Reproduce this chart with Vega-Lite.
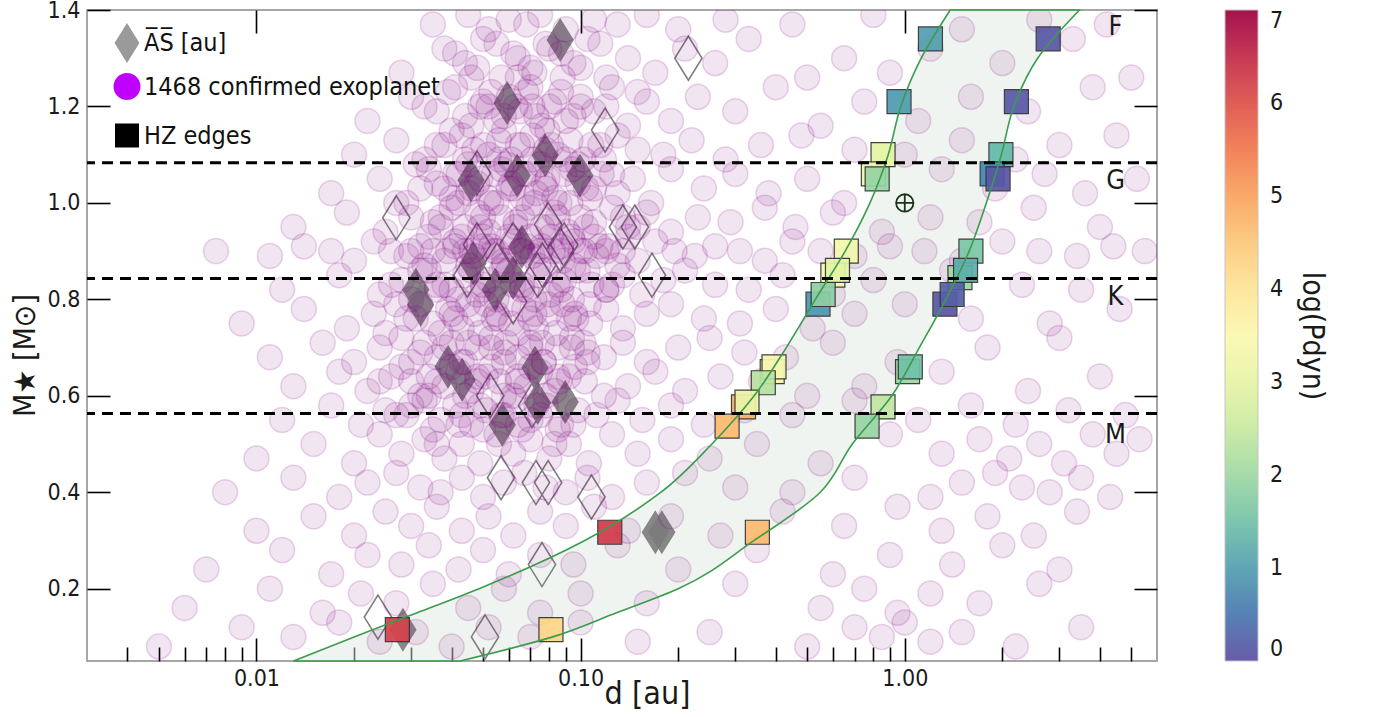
{
"$schema": "https://vega.github.io/schema/vega-lite/v6.json",
"width": 1070, "height": 651,
"autosize": {"type": "none"},
"padding": {"left": 87, "top": 10, "right": 217, "bottom": 56},
"background": "white",
"config": {
  "font": "DejaVu Sans Condensed",
  "view": {"stroke": "#a6a6a6", "strokeWidth": 2},
  "axis": {"grid": false, "domain": false, "tickColor": "black", "tickWidth": 1.6, "labelFont": "DejaVu Sans Condensed", "labelFontSize": 23, "labelColor": "#1a1a1a", "titleFont": "DejaVu Sans Condensed", "titleFontWeight": "normal", "titleColor": "#1a1a1a", "labelFlush": false, "labelOverlap": false}
},
"datasets": {
"hz": [
{"m":0.05,"din":0.0130,"dout":0.0425},{"m":0.1,"din":0.0200,"dout":0.082},{"m":0.15,"din":0.0313,"dout":0.129},{"m":0.2,"din":0.0486,"dout":0.200},{"m":0.3,"din":0.103,"dout":0.343},{"m":0.4,"din":0.177,"dout":0.549},{"m":0.5,"din":0.254,"dout":0.689},{"m":0.6,"din":0.343,"dout":0.912},{"m":0.7,"din":0.431,"dout":1.109},{"m":0.8,"din":0.530,"dout":1.34},{"m":0.9,"din":0.655,"dout":1.58},{"m":1.0,"din":0.781,"dout":1.785},{"m":1.1,"din":0.889,"dout":1.986},{"m":1.2,"din":0.972,"dout":2.17},{"m":1.3,"din":1.124,"dout":2.57},{"m":1.4,"din":1.381,"dout":3.46}
],
"sq": [
{"d":1.20,"m":1.34,"p":1.0},{"d":2.77,"m":1.34,"p":0.1},{"d":0.96,"m":1.21,"p":0.95},{"d":2.21,"m":1.21,"p":0.15},{"d":0.857,"m":1.10,"p":2.9},{"d":1.98,"m":1.10,"p":1.35},
{"d":0.80,"m":1.06,"p":3.2},{"d":0.822,"m":1.05,"p":1.9},{"d":1.86,"m":1.06,"p":0.7},{"d":1.94,"m":1.05,"p":0.1},
{"d":0.66,"m":0.90,"p":3.3},{"d":0.60,"m":0.85,"p":3.4},{"d":0.62,"m":0.86,"p":2.9},{"d":0.54,"m":0.79,"p":0.9},{"d":0.56,"m":0.81,"p":1.8},
{"d":1.60,"m":0.90,"p":1.6},{"d":1.48,"m":0.845,"p":2.0},{"d":1.54,"m":0.86,"p":1.2},{"d":1.33,"m":0.79,"p":0.1},{"d":1.40,"m":0.81,"p":0.2},
{"d":0.39,"m":0.65,"p":3.6},{"d":0.395,"m":0.66,"p":3.4},{"d":0.366,"m":0.627,"p":2.3},{"d":0.318,"m":0.577,"p":4.8},{"d":0.326,"m":0.587,"p":3.1},{"d":0.283,"m":0.537,"p":4.7},
{"d":1.02,"m":0.65,"p":2.0},{"d":1.04,"m":0.66,"p":1.5},{"d":0.857,"m":0.577,"p":2.4},{"d":0.765,"m":0.537,"p":1.9},
{"d":0.351,"m":0.317,"p":4.7},{"d":0.123,"m":0.317,"p":6.3},{"d":0.0272,"m":0.115,"p":6.2},{"d":0.081,"m":0.115,"p":4.3}
],
"dfill": [
{"d":0.0865,"m":1.338},{"d":0.0593,"m":1.207},{"d":0.0777,"m":1.099},{"d":0.0459,"m":1.047},{"d":0.0637,"m":1.057},{"d":0.0995,"m":1.057},{"d":0.0310,"m":0.82},{"d":0.0321,"m":0.789},{"d":0.039,"m":0.66},{"d":0.0431,"m":0.633},{"d":0.0723,"m":0.658},{"d":0.0737,"m":0.585},{"d":0.0896,"m":0.587},{"d":0.0573,"m":0.54},{"d":0.0466,"m":0.875},{"d":0.0545,"m":0.82},{"d":0.0659,"m":0.909},{"d":0.0619,"m":0.845},{"d":0.170,"m":0.317},{"d":0.178,"m":0.317},{"d":0.0283,"m":0.115}
],
"dhollow": [
{"d":0.215,"m":1.30},{"d":0.119,"m":1.151},{"d":0.0479,"m":1.062},{"d":0.0270,"m":0.969},{"d":0.0794,"m":0.955},{"d":0.135,"m":0.95},{"d":0.147,"m":0.95},{"d":0.0479,"m":0.913},{"d":0.0619,"m":0.913},{"d":0.0865,"m":0.903},{"d":0.089,"m":0.913},{"d":0.0447,"m":0.85},{"d":0.0552,"m":0.871},{"d":0.0737,"m":0.85},{"d":0.0762,"m":0.871},{"d":0.166,"m":0.85},{"d":0.0619,"m":0.795},{"d":0.0526,"m":0.60},{"d":0.0708,"m":0.58},{"d":0.0568,"m":0.43},{"d":0.0728,"m":0.42},{"d":0.0794,"m":0.42},{"d":0.108,"m":0.39},{"d":0.076,"m":0.25},{"d":0.0237,"m":0.141},{"d":0.0507,"m":0.10}
],
"hl": [{"m":1.083},{"m":0.843},{"m":0.563}],
"lab": [{"d":4.47,"m":1.365,"t":"F"},{"d":4.47,"m":1.045,"t":"G"},{"d":4.47,"m":0.805,"t":"K"},{"d":4.47,"m":0.519,"t":"M"}],
"earth": [{"d":1.0,"m":1.0}],
"leg": [{"s":"A\u0305S\u0305 [au]"},{"s":"1468 confirmed exoplanet"},{"s":"HZ edges"}],
"planets": [
{"d":0.035,"m":1.37},{"d":0.045,"m":1.39},{"d":0.052,"m":1.36},{"d":0.06,"m":1.38},{"d":0.068,"m":1.37},{"d":0.075,"m":1.39},{"d":0.09,"m":1.36},{"d":0.11,"m":1.38},{"d":0.13,"m":1.37},{"d":0.16,"m":1.39},{"d":0.2,"m":1.36},{"d":0.28,"m":1.38},{"d":0.45,"m":1.37},{"d":0.8,"m":1.39},{"d":1.5,"m":1.36},{"d":2.6,"m":1.38},{"d":4.2,"m":1.37},
{"d":0.028,"m":1.27},{"d":0.038,"m":1.32},{"d":0.044,"m":1.29},{"d":0.05,"m":1.34},{"d":0.057,"m":1.26},{"d":0.064,"m":1.30},{"d":0.072,"m":1.27},{"d":0.08,"m":1.32},{"d":0.095,"m":1.29},{"d":0.105,"m":1.34},{"d":0.12,"m":1.26},{"d":0.14,"m":1.30},{"d":0.17,"m":1.27},{"d":0.21,"m":1.32},{"d":0.26,"m":1.29},{"d":0.33,"m":1.34},{"d":0.5,"m":1.26},{"d":0.65,"m":1.30},{"d":0.9,"m":1.27},{"d":1.2,"m":1.32},{"d":2.0,"m":1.29},{"d":3.3,"m":1.34},{"d":5.0,"m":1.26},
{"d":0.022,"m":1.17},{"d":0.03,"m":1.22},{"d":0.036,"m":1.19},{"d":0.041,"m":1.24},{"d":0.046,"m":1.16},{"d":0.05,"m":1.21},{"d":0.055,"m":1.17},{"d":0.06,"m":1.22},{"d":0.065,"m":1.19},{"d":0.07,"m":1.24},{"d":0.076,"m":1.16},{"d":0.083,"m":1.21},{"d":0.09,"m":1.17},{"d":0.1,"m":1.22},{"d":0.11,"m":1.19},{"d":0.125,"m":1.24},{"d":0.14,"m":1.16},{"d":0.16,"m":1.21},{"d":0.19,"m":1.17},{"d":0.23,"m":1.22},{"d":0.3,"m":1.19},{"d":0.4,"m":1.24},{"d":0.55,"m":1.16},{"d":0.75,"m":1.21},{"d":1.1,"m":1.17},{"d":1.6,"m":1.22},{"d":2.4,"m":1.19},{"d":3.8,"m":1.24},
{"d":0.02,"m":1.10},{"d":0.027,"m":1.13},{"d":0.033,"m":1.09},{"d":0.038,"m":1.12},{"d":0.043,"m":1.14},{"d":0.047,"m":1.11},{"d":0.052,"m":1.10},{"d":0.056,"m":1.13},{"d":0.061,"m":1.09},{"d":0.066,"m":1.12},{"d":0.071,"m":1.14},{"d":0.078,"m":1.11},{"d":0.085,"m":1.10},{"d":0.093,"m":1.13},{"d":0.102,"m":1.09},{"d":0.115,"m":1.12},{"d":0.13,"m":1.14},{"d":0.15,"m":1.11},{"d":0.18,"m":1.10},{"d":0.22,"m":1.13},{"d":0.28,"m":1.09},{"d":0.36,"m":1.12},{"d":0.48,"m":1.14},{"d":0.7,"m":1.11},{"d":1.0,"m":1.10},{"d":1.5,"m":1.13},{"d":2.2,"m":1.09},{"d":3.0,"m":1.12},{"d":4.5,"m":1.14},
{"d":0.017,"m":1.02},{"d":0.024,"m":1.05},{"d":0.029,"m":1.0},{"d":0.034,"m":1.07},{"d":0.038,"m":1.03},{"d":0.042,"m":1.06},{"d":0.045,"m":1.02},{"d":0.049,"m":1.05},{"d":0.053,"m":1.0},{"d":0.057,"m":1.07},{"d":0.062,"m":1.03},{"d":0.067,"m":1.06},{"d":0.073,"m":1.02},{"d":0.079,"m":1.05},{"d":0.086,"m":1.0},{"d":0.094,"m":1.07},{"d":0.104,"m":1.03},{"d":0.116,"m":1.06},{"d":0.13,"m":1.02},{"d":0.145,"m":1.05},{"d":0.165,"m":1.0},{"d":0.19,"m":1.07},{"d":0.24,"m":1.03},{"d":0.3,"m":1.06},{"d":0.38,"m":1.02},{"d":0.5,"m":1.05},{"d":0.65,"m":1.0},{"d":1.3,"m":1.07},{"d":1.9,"m":1.03},{"d":2.7,"m":1.06},{"d":3.6,"m":1.02},{"d":5.2,"m":1.05},
{"d":0.013,"m":0.95},{"d":0.019,"m":0.98},{"d":0.025,"m":0.94},{"d":0.03,"m":0.97},{"d":0.035,"m":0.96},{"d":0.04,"m":0.99},{"d":0.044,"m":0.95},{"d":0.048,"m":0.98},{"d":0.052,"m":0.94},{"d":0.057,"m":0.97},{"d":0.063,"m":0.96},{"d":0.069,"m":0.99},{"d":0.076,"m":0.95},{"d":0.083,"m":0.98},{"d":0.091,"m":0.94},{"d":0.1,"m":0.97},{"d":0.11,"m":0.96},{"d":0.125,"m":0.99},{"d":0.14,"m":0.95},{"d":0.16,"m":0.98},{"d":0.19,"m":0.94},{"d":0.23,"m":0.97},{"d":0.29,"m":0.96},{"d":0.37,"m":0.99},{"d":0.46,"m":0.95},{"d":0.6,"m":0.98},{"d":0.85,"m":0.94},{"d":1.2,"m":0.97},{"d":1.7,"m":0.96},{"d":2.5,"m":0.99},{"d":4.0,"m":0.95},
{"d":0.0075,"m":0.9},{"d":0.011,"m":0.89},{"d":0.014,"m":0.91},{"d":0.017,"m":0.9},{"d":0.02,"m":0.88},{"d":0.023,"m":0.92},{"d":0.026,"m":0.9},{"d":0.029,"m":0.89},{"d":0.032,"m":0.91},{"d":0.035,"m":0.9},{"d":0.038,"m":0.88},{"d":0.041,"m":0.92},{"d":0.044,"m":0.9},{"d":0.047,"m":0.89},{"d":0.05,"m":0.91},{"d":0.054,"m":0.9},{"d":0.058,"m":0.88},{"d":0.062,"m":0.92},{"d":0.066,"m":0.9},{"d":0.071,"m":0.89},{"d":0.076,"m":0.91},{"d":0.082,"m":0.9},{"d":0.088,"m":0.88},{"d":0.095,"m":0.92},{"d":0.103,"m":0.9},{"d":0.112,"m":0.89},{"d":0.122,"m":0.91},{"d":0.135,"m":0.9},{"d":0.15,"m":0.88},{"d":0.17,"m":0.92},{"d":0.195,"m":0.9},{"d":0.225,"m":0.89},{"d":0.26,"m":0.91},{"d":0.31,"m":0.9},{"d":0.37,"m":0.88},{"d":0.45,"m":0.92},{"d":0.55,"m":0.9},{"d":0.7,"m":0.89},{"d":0.9,"m":0.91},{"d":1.15,"m":0.9},{"d":1.5,"m":0.88},{"d":2.0,"m":0.92},{"d":2.6,"m":0.9},{"d":3.4,"m":0.89},{"d":4.4,"m":0.91},{"d":5.5,"m":0.9},
{"d":0.012,"m":0.82},{"d":0.018,"m":0.85},{"d":0.024,"m":0.81},{"d":0.028,"m":0.84},{"d":0.032,"m":0.86},{"d":0.036,"m":0.83},{"d":0.04,"m":0.82},{"d":0.044,"m":0.85},{"d":0.048,"m":0.81},{"d":0.052,"m":0.84},{"d":0.057,"m":0.86},{"d":0.062,"m":0.83},{"d":0.068,"m":0.82},{"d":0.074,"m":0.85},{"d":0.081,"m":0.81},{"d":0.089,"m":0.84},{"d":0.098,"m":0.86},{"d":0.108,"m":0.83},{"d":0.12,"m":0.82},{"d":0.135,"m":0.85},{"d":0.155,"m":0.81},{"d":0.18,"m":0.84},{"d":0.21,"m":0.86},{"d":0.26,"m":0.83},{"d":0.33,"m":0.82},{"d":0.42,"m":0.85},{"d":0.6,"m":0.81},{"d":0.8,"m":0.84},{"d":1.4,"m":0.86},{"d":2.3,"m":0.83},{"d":3.5,"m":0.82},
{"d":0.009,"m":0.75},{"d":0.014,"m":0.78},{"d":0.019,"m":0.74},{"d":0.023,"m":0.77},{"d":0.027,"m":0.79},{"d":0.031,"m":0.76},{"d":0.035,"m":0.75},{"d":0.039,"m":0.78},{"d":0.043,"m":0.74},{"d":0.047,"m":0.77},{"d":0.051,"m":0.79},{"d":0.056,"m":0.76},{"d":0.061,"m":0.75},{"d":0.067,"m":0.78},{"d":0.073,"m":0.74},{"d":0.08,"m":0.77},{"d":0.088,"m":0.79},{"d":0.097,"m":0.76},{"d":0.107,"m":0.75},{"d":0.12,"m":0.78},{"d":0.135,"m":0.74},{"d":0.16,"m":0.77},{"d":0.19,"m":0.79},{"d":0.24,"m":0.76},{"d":0.31,"m":0.75},{"d":0.4,"m":0.78},{"d":0.52,"m":0.74},{"d":0.7,"m":0.77},{"d":1.0,"m":0.79},{"d":1.6,"m":0.76},{"d":2.8,"m":0.75},{"d":4.6,"m":0.78},
{"d":0.011,"m":0.68},{"d":0.016,"m":0.71},{"d":0.02,"m":0.67},{"d":0.024,"m":0.7},{"d":0.028,"m":0.72},{"d":0.032,"m":0.69},{"d":0.036,"m":0.68},{"d":0.04,"m":0.71},{"d":0.044,"m":0.67},{"d":0.048,"m":0.7},{"d":0.053,"m":0.72},{"d":0.058,"m":0.69},{"d":0.064,"m":0.68},{"d":0.07,"m":0.71},{"d":0.077,"m":0.67},{"d":0.085,"m":0.7},{"d":0.094,"m":0.72},{"d":0.105,"m":0.69},{"d":0.118,"m":0.68},{"d":0.135,"m":0.71},{"d":0.16,"m":0.67},{"d":0.2,"m":0.7},{"d":0.25,"m":0.72},{"d":0.32,"m":0.69},{"d":0.43,"m":0.68},{"d":0.6,"m":0.71},{"d":0.95,"m":0.67},{"d":1.8,"m":0.7},{"d":3.0,"m":0.72},
{"d":0.013,"m":0.62},{"d":0.018,"m":0.65},{"d":0.022,"m":0.61},{"d":0.026,"m":0.64},{"d":0.03,"m":0.63},{"d":0.034,"m":0.6},{"d":0.038,"m":0.62},{"d":0.042,"m":0.65},{"d":0.046,"m":0.61},{"d":0.051,"m":0.64},{"d":0.056,"m":0.63},{"d":0.062,"m":0.6},{"d":0.068,"m":0.62},{"d":0.075,"m":0.65},{"d":0.083,"m":0.61},{"d":0.092,"m":0.64},{"d":0.103,"m":0.63},{"d":0.118,"m":0.6},{"d":0.14,"m":0.62},{"d":0.17,"m":0.65},{"d":0.21,"m":0.61},{"d":0.27,"m":0.64},{"d":0.36,"m":0.63},{"d":0.5,"m":0.6},{"d":0.75,"m":0.62},{"d":1.3,"m":0.65},{"d":2.4,"m":0.61},{"d":4.0,"m":0.64},
{"d":0.012,"m":0.55},{"d":0.017,"m":0.58},{"d":0.021,"m":0.54},{"d":0.025,"m":0.57},{"d":0.029,"m":0.56},{"d":0.033,"m":0.59},{"d":0.037,"m":0.55},{"d":0.041,"m":0.58},{"d":0.046,"m":0.54},{"d":0.051,"m":0.57},{"d":0.057,"m":0.56},{"d":0.063,"m":0.59},{"d":0.07,"m":0.55},{"d":0.078,"m":0.58},{"d":0.087,"m":0.54},{"d":0.098,"m":0.57},{"d":0.112,"m":0.56},{"d":0.13,"m":0.59},{"d":0.155,"m":0.55},{"d":0.19,"m":0.58},{"d":0.24,"m":0.54},{"d":0.32,"m":0.57},{"d":0.45,"m":0.56},{"d":0.7,"m":0.59},{"d":1.1,"m":0.55},{"d":1.6,"m":0.58},{"d":2.2,"m":0.54},{"d":3.2,"m":0.57},{"d":4.8,"m":0.56},
{"d":0.01,"m":0.47},{"d":0.015,"m":0.5},{"d":0.02,"m":0.46},{"d":0.024,"m":0.52},{"d":0.028,"m":0.48},{"d":0.033,"m":0.51},{"d":0.038,"m":0.47},{"d":0.043,"m":0.5},{"d":0.049,"m":0.46},{"d":0.055,"m":0.52},{"d":0.062,"m":0.48},{"d":0.07,"m":0.51},{"d":0.08,"m":0.47},{"d":0.092,"m":0.5},{"d":0.106,"m":0.46},{"d":0.125,"m":0.52},{"d":0.15,"m":0.48},{"d":0.19,"m":0.51},{"d":0.25,"m":0.47},{"d":0.35,"m":0.5},{"d":0.55,"m":0.46},{"d":0.9,"m":0.52},{"d":1.3,"m":0.48},{"d":1.7,"m":0.51},{"d":2.1,"m":0.47},{"d":2.6,"m":0.5},{"d":3.1,"m":0.46},{"d":3.8,"m":0.52},{"d":4.5,"m":0.48},{"d":5.3,"m":0.51},
{"d":0.008,"m":0.4},{"d":0.013,"m":0.43},{"d":0.018,"m":0.39},{"d":0.022,"m":0.42},{"d":0.027,"m":0.44},{"d":0.032,"m":0.41},{"d":0.037,"m":0.4},{"d":0.043,"m":0.43},{"d":0.05,"m":0.39},{"d":0.058,"m":0.42},{"d":0.067,"m":0.44},{"d":0.078,"m":0.41},{"d":0.09,"m":0.4},{"d":0.105,"m":0.43},{"d":0.125,"m":0.39},{"d":0.16,"m":0.42},{"d":0.21,"m":0.44},{"d":0.3,"m":0.41},{"d":0.45,"m":0.4},{"d":0.7,"m":0.43},{"d":1.2,"m":0.39},{"d":1.5,"m":0.42},{"d":1.9,"m":0.44},{"d":2.3,"m":0.41},{"d":2.8,"m":0.4},{"d":3.5,"m":0.43},{"d":4.3,"m":0.39},
{"d":0.01,"m":0.32},{"d":0.015,"m":0.35},{"d":0.02,"m":0.31},{"d":0.025,"m":0.36},{"d":0.03,"m":0.33},{"d":0.036,"m":0.37},{"d":0.043,"m":0.32},{"d":0.052,"m":0.35},{"d":0.062,"m":0.31},{"d":0.075,"m":0.36},{"d":0.09,"m":0.33},{"d":0.11,"m":0.37},{"d":0.14,"m":0.32},{"d":0.19,"m":0.35},{"d":0.27,"m":0.31},{"d":0.42,"m":0.36},{"d":0.65,"m":0.33},{"d":0.95,"m":0.37},{"d":1.3,"m":0.32},{"d":1.8,"m":0.35},{"d":2.5,"m":0.31},{"d":3.4,"m":0.36},
{"d":0.007,"m":0.24},{"d":0.012,"m":0.28},{"d":0.017,"m":0.23},{"d":0.022,"m":0.27},{"d":0.028,"m":0.25},{"d":0.034,"m":0.29},{"d":0.042,"m":0.24},{"d":0.05,"m":0.28},{"d":0.06,"m":0.23},{"d":0.075,"m":0.27},{"d":0.095,"m":0.25},{"d":0.13,"m":0.29},{"d":0.2,"m":0.24},{"d":0.35,"m":0.28},{"d":0.6,"m":0.23},{"d":0.9,"m":0.27},{"d":1.4,"m":0.25},{"d":2.0,"m":0.29},{"d":3.0,"m":0.24},
{"d":0.006,"m":0.16},{"d":0.011,"m":0.2},{"d":0.016,"m":0.15},{"d":0.021,"m":0.19},{"d":0.027,"m":0.17},{"d":0.035,"m":0.21},{"d":0.045,"m":0.16},{"d":0.058,"m":0.2},{"d":0.075,"m":0.15},{"d":0.1,"m":0.19},{"d":0.16,"m":0.17},{"d":0.3,"m":0.21},{"d":0.55,"m":0.16},{"d":0.75,"m":0.2},{"d":0.95,"m":0.15},{"d":1.2,"m":0.19},{"d":1.7,"m":0.17},{"d":2.6,"m":0.21},
{"d":0.005,"m":0.08},{"d":0.009,"m":0.12},{"d":0.013,"m":0.1},{"d":0.018,"m":0.13},{"d":0.024,"m":0.09},{"d":0.031,"m":0.11},{"d":0.04,"m":0.08},{"d":0.052,"m":0.12},{"d":0.07,"m":0.1},{"d":0.1,"m":0.13},{"d":0.15,"m":0.09},{"d":0.25,"m":0.11},{"d":0.5,"m":0.08},{"d":0.7,"m":0.12},{"d":0.85,"m":0.1},{"d":1.0,"m":0.13},{"d":1.2,"m":0.09},{"d":1.5,"m":0.11},{"d":2.2,"m":0.08},{"d":3.5,"m":0.12},
{"d":0.041,"m":1.31},{"d":0.048,"m":1.28},{"d":0.055,"m":1.33},{"d":0.062,"m":1.31},{"d":0.07,"m":1.28},{"d":0.078,"m":1.33},{"d":0.087,"m":1.31},{"d":0.1,"m":1.28},{"d":0.115,"m":1.33},
{"d":0.033,"m":1.20},{"d":0.039,"m":1.23},{"d":0.044,"m":1.18},{"d":0.049,"m":1.20},{"d":0.053,"m":1.23},{"d":0.058,"m":1.18},{"d":0.063,"m":1.20},{"d":0.068,"m":1.23},{"d":0.073,"m":1.18},{"d":0.08,"m":1.20},{"d":0.087,"m":1.23},{"d":0.095,"m":1.18},{"d":0.12,"m":1.20},{"d":0.15,"m":1.23},
{"d":0.031,"m":1.08},{"d":0.036,"m":1.12},{"d":0.041,"m":1.06},{"d":0.045,"m":1.08},{"d":0.05,"m":1.12},{"d":0.054,"m":1.06},{"d":0.059,"m":1.08},{"d":0.064,"m":1.12},{"d":0.069,"m":1.06},{"d":0.075,"m":1.08},{"d":0.081,"m":1.12},{"d":0.089,"m":1.06},{"d":0.098,"m":1.08},{"d":0.108,"m":1.12},{"d":0.125,"m":1.06},
{"d":0.027,"m":1.0},{"d":0.032,"m":1.03},{"d":0.037,"m":0.97},{"d":0.042,"m":1.0},{"d":0.046,"m":1.03},{"d":0.05,"m":0.97},{"d":0.055,"m":1.0},{"d":0.06,"m":1.03},{"d":0.066,"m":0.97},{"d":0.072,"m":1.0},{"d":0.078,"m":1.03},{"d":0.085,"m":0.97},{"d":0.093,"m":1.0},{"d":0.11,"m":1.03},{"d":0.135,"m":0.97},
{"d":0.03,"m":0.9},{"d":0.034,"m":0.93},{"d":0.039,"m":0.9},{"d":0.043,"m":0.93},{"d":0.046,"m":0.9},{"d":0.05,"m":0.93},{"d":0.055,"m":0.9},{"d":0.06,"m":0.93},{"d":0.065,"m":0.9},{"d":0.07,"m":0.93},{"d":0.075,"m":0.9},{"d":0.081,"m":0.93},{"d":0.087,"m":0.9},{"d":0.094,"m":0.93},{"d":0.1,"m":0.9},{"d":0.11,"m":0.93},{"d":0.12,"m":0.9},{"d":0.14,"m":0.93},
{"d":0.026,"m":0.83},{"d":0.03,"m":0.8},{"d":0.034,"m":0.86},{"d":0.038,"m":0.83},{"d":0.042,"m":0.8},{"d":0.046,"m":0.86},{"d":0.05,"m":0.83},{"d":0.055,"m":0.8},{"d":0.06,"m":0.86},{"d":0.066,"m":0.83},{"d":0.072,"m":0.8},{"d":0.078,"m":0.86},{"d":0.085,"m":0.83},{"d":0.094,"m":0.8},{"d":0.105,"m":0.86},{"d":0.125,"m":0.83},
{"d":0.025,"m":0.73},{"d":0.029,"m":0.76},{"d":0.033,"m":0.71},{"d":0.037,"m":0.73},{"d":0.041,"m":0.76},{"d":0.045,"m":0.71},{"d":0.049,"m":0.73},{"d":0.054,"m":0.76},{"d":0.059,"m":0.71},{"d":0.064,"m":0.73},{"d":0.07,"m":0.76},{"d":0.076,"m":0.71},{"d":0.084,"m":0.73},{"d":0.092,"m":0.76},{"d":0.102,"m":0.71},
{"d":0.024,"m":0.63},{"d":0.028,"m":0.66},{"d":0.032,"m":0.6},{"d":0.036,"m":0.63},{"d":0.04,"m":0.66},{"d":0.044,"m":0.6},{"d":0.048,"m":0.63},{"d":0.053,"m":0.66},{"d":0.058,"m":0.6},{"d":0.064,"m":0.63},{"d":0.07,"m":0.66},{"d":0.078,"m":0.6},{"d":0.086,"m":0.63},{"d":0.096,"m":0.66},
{"d":0.027,"m":0.56},{"d":0.035,"m":0.53},{"d":0.043,"m":0.56},{"d":0.05,"m":0.53},{"d":0.058,"m":0.56},{"d":0.066,"m":0.53},{"d":0.075,"m":0.56},{"d":0.085,"m":0.53},
{"d":0.036,"m":1.04},{"d":0.04,"m":1.01},{"d":0.044,"m":1.09},{"d":0.048,"m":1.04},{"d":0.052,"m":1.01},{"d":0.056,"m":1.09},{"d":0.061,"m":1.04},{"d":0.066,"m":1.01},{"d":0.071,"m":1.09},{"d":0.077,"m":1.04},{"d":0.083,"m":1.01},{"d":0.09,"m":1.09},{"d":0.098,"m":1.04},{"d":0.107,"m":1.01},{"d":0.118,"m":1.09},
{"d":0.033,"m":0.87},{"d":0.037,"m":0.95},{"d":0.041,"m":0.91},{"d":0.045,"m":0.87},{"d":0.049,"m":0.95},{"d":0.053,"m":0.91},{"d":0.058,"m":0.87},{"d":0.063,"m":0.95},{"d":0.068,"m":0.91},{"d":0.074,"m":0.87},{"d":0.08,"m":0.95},{"d":0.087,"m":0.91},{"d":0.095,"m":0.87},{"d":0.104,"m":0.95},{"d":0.115,"m":0.91},{"d":0.13,"m":0.87},{"d":0.15,"m":0.95},
{"d":0.032,"m":0.79},{"d":0.036,"m":0.82},{"d":0.04,"m":0.77},{"d":0.045,"m":0.79},{"d":0.05,"m":0.82},{"d":0.055,"m":0.77},{"d":0.06,"m":0.79},{"d":0.066,"m":0.82},{"d":0.072,"m":0.77},{"d":0.079,"m":0.79},{"d":0.087,"m":0.82},{"d":0.096,"m":0.77},{"d":0.106,"m":0.79},{"d":0.12,"m":0.82},
{"d":0.03,"m":0.67},{"d":0.034,"m":0.64},{"d":0.038,"m":0.7},{"d":0.043,"m":0.67},{"d":0.048,"m":0.64},{"d":0.053,"m":0.7},{"d":0.058,"m":0.67},{"d":0.064,"m":0.64},{"d":0.07,"m":0.7},{"d":0.077,"m":0.67},{"d":0.085,"m":0.64},{"d":0.094,"m":0.7},{"d":0.105,"m":0.67},
{"d":0.04,"m":1.15},{"d":0.046,"m":1.26},{"d":0.052,"m":1.2},{"d":0.058,"m":1.15},{"d":0.064,"m":1.26},{"d":0.071,"m":1.2},{"d":0.079,"m":1.15},{"d":0.088,"m":1.26},{"d":0.1,"m":1.2},
{"d":0.03,"m":0.58},{"d":0.036,"m":0.5},{"d":0.042,"m":0.54},{"d":0.049,"m":0.58},{"d":0.056,"m":0.5},{"d":0.064,"m":0.54},{"d":0.073,"m":0.58},{"d":0.083,"m":0.5},{"d":0.095,"m":0.54}
]
},
"layer": [
{"data": {"name": "hz"},
 "mark": {"type": "area", "orient": "horizontal", "interpolate": "monotone", "fill": "#dde6dd", "fillOpacity": 0.45},
 "encoding": {
  "y": {"field": "m", "type": "quantitative", "scale": {"domain": [0.05, 1.4], "nice": false, "zero": false},
        "axis": {"orient": "left", "values": [0.2,0.4,0.6,0.8,1.0,1.2,1.4], "format": ".1f", "tickSize": -23, "labelPadding": 30, "title": "M\u2605 [M\u2299]", "titleFontSize": 30, "titleX": -62, "titleY": 345, "titleAlign": "center", "titleBaseline": "middle", "titleAngle": -90}},
  "x": {"field": "din", "type": "quantitative", "scale": {"type": "log", "domain": [0.003, 6], "nice": false},
        "axis": {"orient": "bottom", "values": [0.004,0.005,0.006,0.007,0.008,0.009,0.01,0.02,0.03,0.04,0.05,0.06,0.07,0.08,0.09,0.1,0.2,0.3,0.4,0.5,0.6,0.7,0.8,0.9,1,2,3,4,5],
                 "tickSize": {"condition": {"test": "datum.value == 0.01 || datum.value == 0.1 || datum.value == 1", "value": -23}, "value": -14},
                 "labelPadding": 29, "labelExpr": "(datum.value == 0.01 || datum.value == 0.1 || datum.value == 1) ? format(datum.value, '.2f') : ''",
                 "title": "d [au]", "titleFontSize": 32, "titleX": 560, "titleY": 42, "titleAlign": "center", "titleBaseline": "alphabetic"}},
  "x2": {"field": "dout"}
 }},
{"data": {"name": "dfill"},
 "mark": {"type": "point", "shape": "M0,-1L0.62,0L0,1L-0.62,0Z", "filled": true, "fill": "#7b7b7b", "opacity": 0.9, "size": 1936, "strokeWidth": 0, "clip": true},
 "encoding": {
  "x": {"field": "d", "type": "quantitative", "axis": null},
  "y": {"field": "m", "type": "quantitative", "axis": null}
 }},
{"data": {"name": "dhollow"},
 "mark": {"type": "point", "shape": "M0,-1L0.62,0L0,1L-0.62,0Z", "filled": false, "stroke": "#7f7f7f", "strokeWidth": 1.6, "opacity": 1, "size": 1936, "clip": true},
 "encoding": {
  "x": {"field": "d", "type": "quantitative", "axis": null},
  "y": {"field": "m", "type": "quantitative", "axis": null}
 }},
{"data": {"name": "planets"},
 "mark": {"type": "point", "shape": "circle", "filled": true, "fill": "#800080", "fillOpacity": 0.1, "stroke": "#800080", "strokeOpacity": 0.17, "strokeWidth": 1.5, "opacity": 1, "size": 625, "clip": true},
 "encoding": {
  "x": {"field": "d", "type": "quantitative", "axis": {"orient": "top", "values": [0.01, 0.1, 1], "tickSize": -23, "labels": false, "title": null}},
  "y": {"field": "m", "type": "quantitative", "axis": {"orient": "right", "values": [0.2,0.4,0.6,0.8,1.0,1.2,1.4], "tickSize": -23, "labels": false, "title": null}}
 }},
{"data": {"name": "sq"},
 "mark": {"type": "point", "shape": "square", "filled": true, "opacity": 0.93, "size": 576, "stroke": "#333333", "strokeWidth": 1.2, "clip": true},
 "encoding": {
  "x": {"field": "d", "type": "quantitative", "axis": null},
  "y": {"field": "m", "type": "quantitative", "axis": null},
  "color": {"field": "p", "type": "quantitative", "scale": {"domain": [0, 7], "scheme": {"name": "spectral", "extent": [1, 0]}},
    "legend": {"type": "gradient", "direction": "vertical", "orient": "none", "legendX": 1138, "legendY": 0, "gradientLength": 651, "gradientThickness": 33, "gradientStrokeColor": "#c0c0c0", "gradientStrokeWidth": 1, "values": [0,1,2,3,4,5,6,7], "format": "d", "labelFontSize": 23, "labelFont": "DejaVu Sans Condensed", "labelColor": "#1a1a1a", "labelOffset": 12, "title": "log(Pdyn)", "titleOrient": "right", "titleFontSize": 30, "titleFont": "DejaVu Sans Condensed", "titleFontWeight": "normal", "titleColor": "#1a1a1a", "titlePadding": 14, "titleAnchor": "middle"}}
 }},
{"data": {"name": "hz"},
 "mark": {"type": "area", "orient": "horizontal", "interpolate": "monotone", "fillOpacity": 0, "stroke": "#3a9c4c", "strokeWidth": 1.6},
 "encoding": {
  "y": {"field": "m", "type": "quantitative", "axis": null},
  "x": {"field": "din", "type": "quantitative", "axis": null},
  "x2": {"field": "dout"}
 }},
{"data": {"name": "hl"},
 "mark": {"type": "rule", "strokeDash": [11, 7], "strokeWidth": 3, "color": "black"},
 "encoding": {"y": {"field": "m", "type": "quantitative", "axis": null}}},
{"data": {"name": "lab"},
 "mark": {"type": "text", "fontSize": 27, "font": "DejaVu Sans Condensed", "color": "#1a1a1a", "align": "center", "baseline": "middle"},
 "encoding": {
  "x": {"field": "d", "type": "quantitative", "axis": null},
  "y": {"field": "m", "type": "quantitative", "axis": null},
  "text": {"field": "t"}}},
{"data": {"name": "earth"},
 "mark": {"type": "point", "shape": "M-1,0A1,1 0 1,0 1,0A1,1 0 1,0 -1,0ZM-1,0L1,0M0,-1L0,1", "filled": false, "stroke": "#1c331c", "strokeWidth": 1.8, "opacity": 1, "size": 300},
 "encoding": {
  "x": {"field": "d", "type": "quantitative", "axis": null},
  "y": {"field": "m", "type": "quantitative", "axis": null}}},
{"data": {"name": "leg"},
 "mark": {"type": "point", "filled": true, "opacity": 0},
 "encoding": {
  "shape": {"field": "s", "type": "nominal",
    "scale": {"domain": ["A\u0305S\u0305 [au]", "1468 confirmed exoplanet", "HZ edges"], "range": ["M0,-1L0.62,0L0,1L-0.62,0Z", "circle", "square"]},
    "legend": {"orient": "none", "legendX": 20, "legendY": 13, "padding": 0, "title": null, "labelFontSize": 25, "labelFont": "DejaVu Sans Condensed", "labelColor": "#111111", "labelLimit": 500, "labelOffset": -3, "rowPadding": 10, "gridAlign": "all", "symbolOpacity": 1, "symbolStrokeWidth": 0}},
  "fill": {"field": "s", "type": "nominal",
    "scale": {"domain": ["A\u0305S\u0305 [au]", "1468 confirmed exoplanet", "HZ edges"], "range": ["#9a9a9a", "#bf00ff", "#000000"]},
    "legend": {"orient": "none", "legendX": 20, "legendY": 13, "padding": 0, "title": null, "labelFontSize": 25, "labelFont": "DejaVu Sans Condensed", "labelColor": "#111111", "labelLimit": 500, "labelOffset": -3, "rowPadding": 10, "gridAlign": "all", "symbolOpacity": 1, "symbolStrokeWidth": 0}},
  "size": {"field": "s", "type": "nominal",
    "scale": {"type": "ordinal", "domain": ["A\u0305S\u0305 [au]", "1468 confirmed exoplanet", "HZ edges"], "range": [1600, 729, 576]},
    "legend": {"orient": "none", "legendX": 20, "legendY": 13, "padding": 0, "title": null, "labelFontSize": 25, "labelFont": "DejaVu Sans Condensed", "labelColor": "#111111", "labelLimit": 500, "labelOffset": -3, "rowPadding": 10, "gridAlign": "all", "symbolOpacity": 1, "symbolStrokeWidth": 0}}
 }}
],
"resolve": {"axis": {"x": "independent", "y": "independent"}}
}
